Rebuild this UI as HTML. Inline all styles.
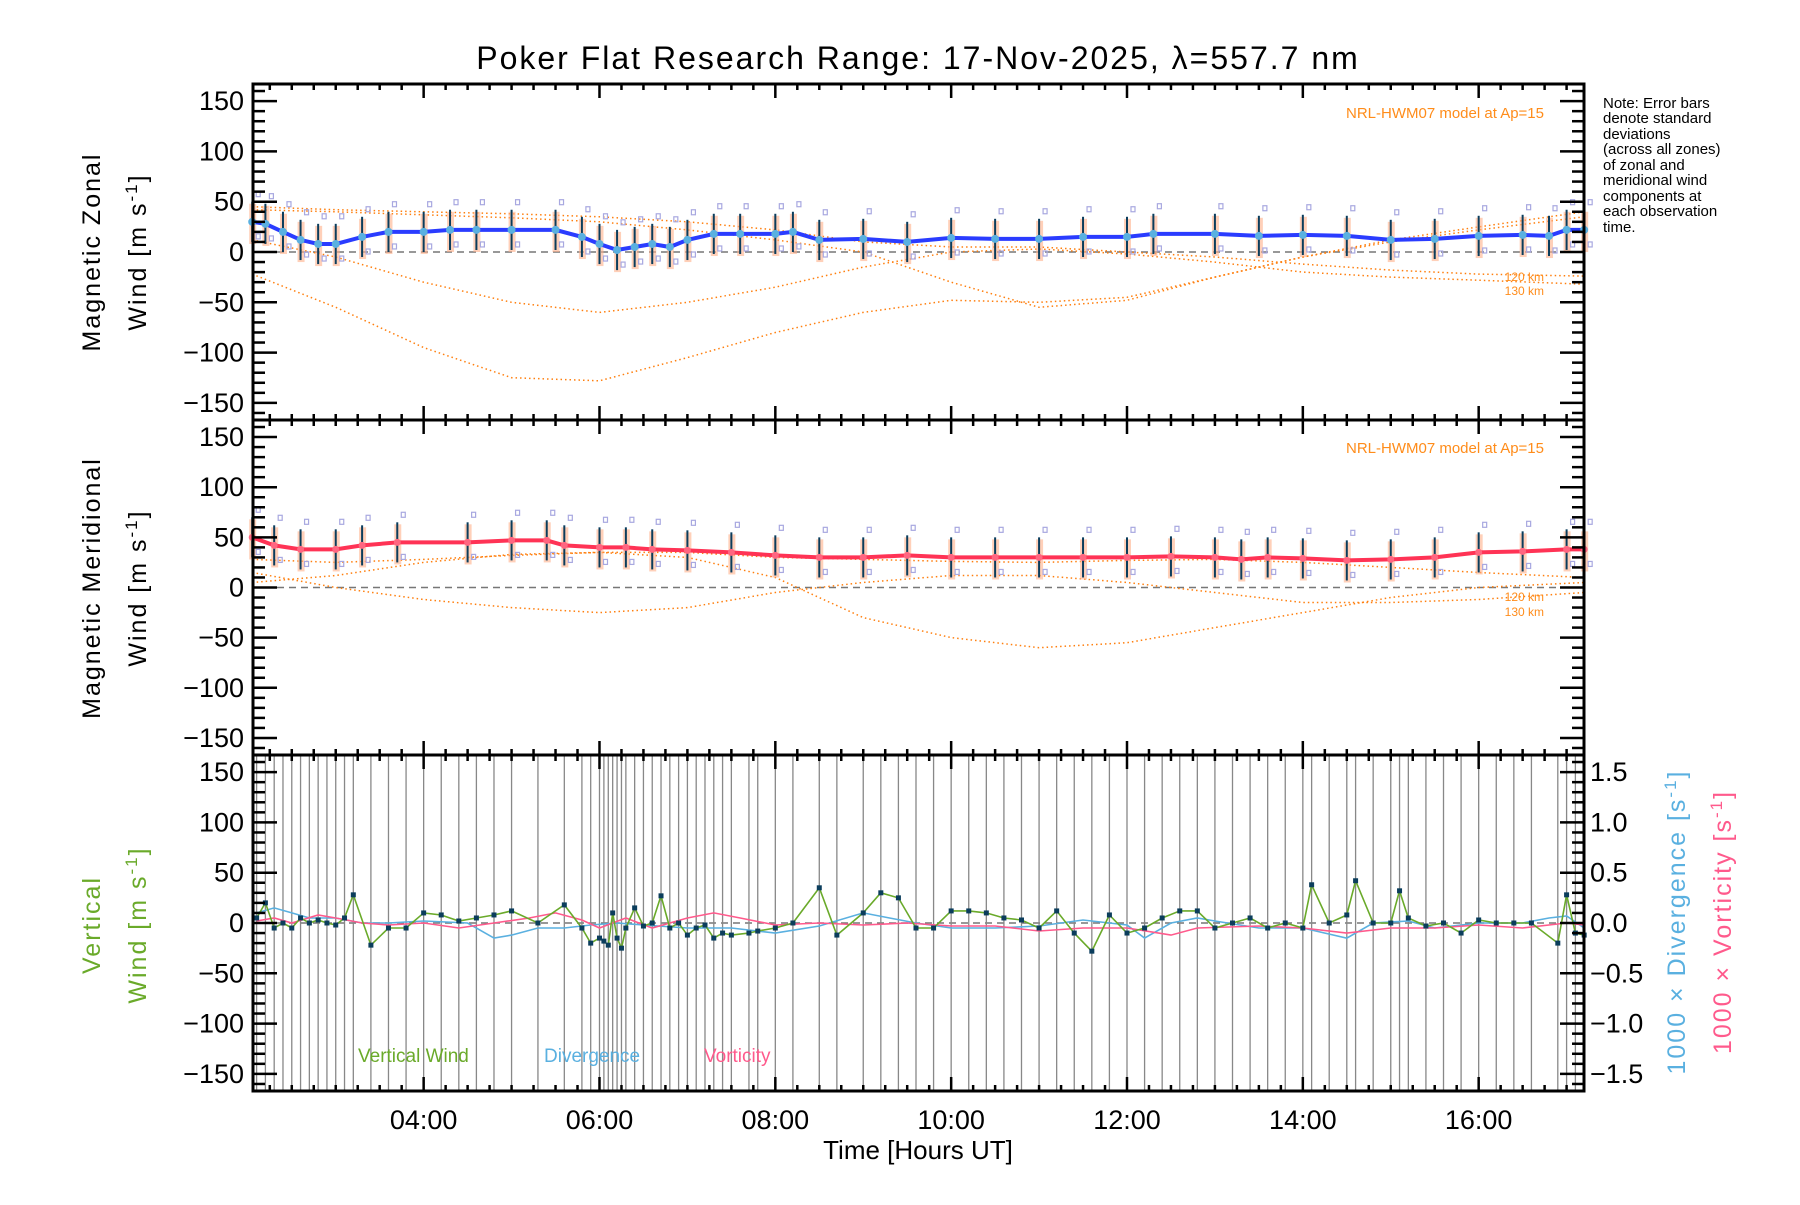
<!DOCTYPE html>
<html><head><meta charset="utf-8"><style>
body{margin:0;background:#fff}
svg text{font-family:"Liberation Sans",sans-serif}
</style></head><body>
<svg id="chart" width="1800" height="1200" xmlns="http://www.w3.org/2000/svg">
<rect width="1800" height="1200" fill="#fff"/>
<text x="918" y="69" font-size="32" letter-spacing="2" text-anchor="middle">Poker Flat Research Range: 17-Nov-2025, λ=557.7 nm</text>
<g id="marks"></g>
<g id="axes"></g>
<g font-size="15" fill="#000">
<text x="1603" y="108">Note: Error bars</text>
<text x="1603" y="123">denote standard</text>
<text x="1603" y="139">deviations</text>
<text x="1603" y="154">(across all zones)</text>
<text x="1603" y="170">of zonal and</text>
<text x="1603" y="185">meridional wind</text>
<text x="1603" y="201">components at</text>
<text x="1603" y="216">each observation</text>
<text x="1603" y="232">time.</text>
</g>
<text x="1544" y="118" font-size="15" fill="#ff8c1a" text-anchor="end">NRL-HWM07 model at Ap=15</text>
<text x="1544" y="453" font-size="15" fill="#ff8c1a" text-anchor="end">NRL-HWM07 model at Ap=15</text>
<text x="1544" y="281" font-size="12" fill="#ff8c1a" text-anchor="end">120 km</text>
<text x="1544" y="295" font-size="12" fill="#ff8c1a" text-anchor="end">130 km</text>
<text x="1544" y="601" font-size="12" fill="#ff8c1a" text-anchor="end">120 km</text>
<text x="1544" y="616" font-size="12" fill="#ff8c1a" text-anchor="end">130 km</text>
<text x="358" y="1062" font-size="19" fill="#6aaa2a">Vertical Wind</text>
<text x="544" y="1062" font-size="19" fill="#5ab0e0">Divergence</text>
<text x="704" y="1062" font-size="19" fill="#ff5a8c">Vorticity</text>
<text font-size="25" letter-spacing="2" text-anchor="middle" transform="translate(100,252) rotate(-90)">Magnetic Zonal</text>
<text font-size="25" letter-spacing="2" text-anchor="middle" transform="translate(146,252) rotate(-90)">Wind [m s<tspan dy="-9" font-size="17">-1</tspan><tspan dy="9">]</tspan></text>
<text font-size="25" letter-spacing="2" text-anchor="middle" transform="translate(100,588) rotate(-90)">Magnetic Meridional</text>
<text font-size="25" letter-spacing="2" text-anchor="middle" transform="translate(146,588) rotate(-90)">Wind [m s<tspan dy="-9" font-size="17">-1</tspan><tspan dy="9">]</tspan></text>
<text font-size="25" letter-spacing="2" fill="#6aaa2a" text-anchor="middle" transform="translate(100,925) rotate(-90)">Vertical</text>
<text font-size="25" letter-spacing="2" fill="#6aaa2a" text-anchor="middle" transform="translate(146,925) rotate(-90)">Wind [m s<tspan dy="-9" font-size="17">-1</tspan><tspan dy="9">]</tspan></text>
<text font-size="25" letter-spacing="2" fill="#5ab0e0" text-anchor="middle" transform="translate(1685,922) rotate(-90)">1000 × Divergence [s<tspan dy="-9" font-size="17">-1</tspan><tspan dy="9">]</tspan></text>
<text font-size="25" letter-spacing="2" fill="#ff5a8c" text-anchor="middle" transform="translate(1731,922) rotate(-90)">1000 × Vorticity [s<tspan dy="-9" font-size="17">-1</tspan><tspan dy="9">]</tspan></text>
<text x="918" y="1159" font-size="26" text-anchor="middle">Time [Hours UT]</text>
</svg>
<script>
const zonalTimes=[2.05,2.2,2.4,2.6,2.8,3.0,3.3,3.6,4.0,4.3,4.6,5.0,5.5,5.8,6.0,6.2,6.4,6.6,6.8,7.0,7.3,7.6,8.0,8.2,8.5,9.0,9.5,10.0,10.5,11.0,11.5,12.0,12.3,13.0,13.5,14.0,14.5,15.0,15.5,16.0,16.5,16.8,17.0,17.2];
const zonalWind=[30,28,20,12,8,8,15,20,20,22,22,22,22,15,8,2,5,8,5,12,18,18,18,20,12,13,10,14,13,13,15,15,18,18,16,17,16,12,13,16,17,16,22,22];
const merTimes=[2.05,2.3,2.6,3.0,3.3,3.7,4.5,5.0,5.4,5.6,6.0,6.3,6.6,7.0,7.5,8.0,8.5,9.0,9.5,10.0,10.5,11.0,11.5,12.0,12.5,13.0,13.3,13.6,14.0,14.5,15.0,15.5,16.0,16.5,17.0,17.2];
const merWind=[50,42,38,38,42,45,45,47,47,42,40,40,38,37,35,32,30,30,32,30,30,30,30,30,31,30,28,30,29,27,28,30,35,36,38,38];
const modelTimes=[2.05,3,4,5,6,7,8,9,10,11,12,13,14,15,16,17.2];
const zonalModelA=[42,40,37,34,30,22,12,0,-30,-55,-48,-25,-5,12,25,40];
const zonalModelB=[12,-5,-30,-50,-60,-50,-35,-15,0,3,-2,-10,-20,-25,-28,-32];
const zonalModelC=[-22,-55,-95,-125,-128,-105,-80,-60,-48,-50,-45,-25,-5,10,22,35];
const zonalModelD=[45,42,40,38,35,30,22,10,5,5,0,-5,-12,-18,-22,-24];
const merModelA=[15,0,-12,-20,-25,-20,-5,5,12,12,5,-5,-15,-15,-12,-5];
const merModelB=[5,12,25,33,35,30,10,-30,-50,-60,-55,-40,-25,-10,0,5];
const merModelC=[28,25,28,32,35,35,30,28,26,25,27,28,25,20,15,10];
const vertTimes=[2.1,2.2,2.3,2.4,2.5,2.6,2.7,2.8,2.9,3.0,3.1,3.2,3.4,3.6,3.8,4.0,4.2,4.4,4.6,4.8,5.0,5.3,5.6,5.8,5.9,6.0,6.05,6.1,6.15,6.2,6.25,6.3,6.4,6.5,6.6,6.7,6.8,6.9,7.0,7.1,7.2,7.3,7.4,7.5,7.7,7.8,8.0,8.2,8.5,8.7,9.0,9.2,9.4,9.6,9.8,10.0,10.2,10.4,10.6,10.8,11.0,11.2,11.4,11.6,11.8,12.0,12.2,12.4,12.6,12.8,13.0,13.2,13.4,13.6,13.8,14.0,14.1,14.3,14.5,14.6,14.8,15.0,15.1,15.2,15.4,15.6,15.8,16.0,16.2,16.4,16.6,16.9,17.0,17.1,17.2];
const vertWind=[5,20,-5,0,-5,5,0,3,0,-2,5,28,-22,-5,-5,10,8,2,5,8,12,0,18,-5,-20,-15,-18,-22,10,-15,-25,-5,15,-3,0,27,-5,0,-12,-5,-2,-15,-10,-12,-10,-8,-5,0,35,-12,10,30,25,-5,-5,12,12,10,5,3,-5,12,-10,-28,8,-10,-5,5,12,12,-5,0,5,-5,0,-5,38,0,8,42,0,0,32,5,-3,0,-10,3,0,0,0,-20,28,-10,-12];
const divTimes=[2.1,2.3,2.5,2.7,3.0,3.3,3.6,4.0,4.5,4.8,5.0,5.3,5.6,5.9,6.2,6.5,7.0,7.5,8.0,8.5,9.0,9.3,9.6,10.0,10.5,11.0,11.5,12.0,12.2,12.5,12.8,13.0,13.5,14.0,14.5,14.8,15.2,15.5,16.0,16.5,16.8,17.0,17.2];
const divergence=[0.1,0.15,0.1,0.05,0.05,0,0,0.02,0,-0.15,-0.12,-0.05,-0.05,-0.02,0,-0.02,-0.05,-0.05,-0.1,-0.03,0.1,0.05,0,-0.05,-0.05,-0.03,0.03,-0.02,-0.15,0,0.05,0.02,-0.05,-0.05,-0.15,0,0.02,-0.05,0,0,0.05,0.07,-0.05];
const vortTimes=[2.1,2.3,2.5,2.8,3.0,3.3,3.6,4.0,4.4,4.8,5.2,5.5,5.8,6.0,6.3,6.6,7.0,7.3,7.6,8.0,8.5,9.0,9.5,10.0,10.5,11.0,11.5,12.0,12.5,12.8,13.5,14.0,14.5,15.0,15.5,16.0,16.5,17.0,17.2];
const vorticity=[0.02,0.05,0,0.08,0.05,0,-0.02,0,-0.05,0,0.05,0.1,0.03,-0.05,0.05,-0.05,0.05,0.1,0.05,-0.02,0,-0.02,0,-0.03,-0.03,-0.08,-0.05,-0.05,-0.12,-0.05,-0.03,-0.05,-0.1,-0.05,-0.05,-0.02,-0.05,0,-0.02];
const yTicks=[150,100,50,0,-50,-100,-150];
const rTicks=[1.5,1.0,0.5,0.0,-0.5,-1.0,-1.5];
const xTickHours=[4,6,8,10,12,14,16];

const NS="http://www.w3.org/2000/svg";
const X0=253,X1=1584,T0=2.059,T1=17.198,YMAX=167;
const panels=[{top:84,bot:420},{top:420,bot:755},{top:755,bot:1091}];
function xs(t){return X0+(t-T0)*(X1-X0)/(T1-T0);}
function ysP(p){return v=>{const P=panels[p];const m=(P.top+P.bot)/2;return m-v*(P.bot-P.top)/2/YMAX;};}
const ys=[ysP(0),ysP(1),ysP(2)];
function ysR(v){return ys[2](v*100);}
const marks=document.getElementById('marks'),axes=document.getElementById('axes');
function el(tag,attrs,parent){const e=document.createElementNS(NS,tag);for(const k in attrs)e.setAttribute(k,attrs[k]);(parent||marks).appendChild(e);return e;}
function poly(ts,vs,y,attrs,name){
  const pts=ts.map((t,i)=>xs(t).toFixed(1)+','+y(vs[i]).toFixed(1)).join(' ');
  const e=el('polyline',Object.assign({points:pts,fill:'none'},attrs));
  
  
  return e;
}
for(let p=0;p<3;p++){
  const z=el('line',{x1:X0,x2:X1,y1:ys[p](0),y2:ys[p](0),stroke:'#777','stroke-width':1.5,'stroke-dasharray':'7,5'});
  
  
}
vertTimes.forEach(t=>{
  const l=el('line',{x1:xs(t),x2:xs(t),y1:panels[2].top,y2:panels[2].bot,stroke:'#888','stroke-width':1.3});
  
  
});
const dot={stroke:'#ff7f0e','stroke-width':1.5,'stroke-dasharray':'1.5,3'};
[zonalModelA,zonalModelB,zonalModelC,zonalModelD].forEach(m=>poly(modelTimes,m,ys[0],dot,'zonal-model-curve'));
[merModelA,merModelB,merModelC].forEach(m=>poly(modelTimes,m,ys[1],dot,'meridional-model-curve'));
function errs(ts,vs,y,name){
  ts.forEach((t,i)=>{
    const x=xs(t),v=vs[i];
    const r=el('rect',{x:x-3,y:y(v+18),width:7,height:y(v-22)-y(v+18),fill:'#ffb08a','fill-opacity':0.6});
    
    
    const l=el('line',{x1:x,x2:x,y1:y(v+20),y2:y(v-20),stroke:'#0b3d5c','stroke-width':2});
    
    
    [v+28,v-14].forEach(q=>{
      const s=el('rect',{x:x+4,y:y(q)-2,width:4,height:5,fill:'none',stroke:'#a8a8e0','stroke-width':1.2});
      
      
    });
  });
}
errs(zonalTimes,zonalWind,ys[0],'zonal');
errs(merTimes,merWind,ys[1],'meridional');
poly(zonalTimes,zonalWind,ys[0],{stroke:'#2a3cff','stroke-width':4},'zonal-wind-line');
poly(merTimes,merWind,ys[1],{stroke:'#ff3355','stroke-width':4},'meridional-wind-line');
zonalTimes.forEach((t,i)=>{const c=el('circle',{cx:xs(t),cy:ys[0](zonalWind[i]),r:4,fill:'#5ab0e0'});});
merTimes.forEach((t,i)=>{const c=el('circle',{cx:xs(t),cy:ys[1](merWind[i]),r:3.5,fill:'#ff6680'});});
poly(divTimes,divergence,ysR,{stroke:'#5ab0e0','stroke-width':1.6},'divergence-line');
poly(vortTimes,vorticity,ysR,{stroke:'#ff5a8c','stroke-width':1.6},'vorticity-line');
poly(vertTimes,vertWind,ys[2],{stroke:'#6aaa2a','stroke-width':1.6},'vertical-wind-line');
vertTimes.forEach((t,i)=>{const c=el('rect',{x:xs(t)-2.5,y:ys[2](vertWind[i])-2.5,width:5,height:5,fill:'#0b3d5c'});});
for(let p=0;p<3;p++){
  const P=panels[p];
  const b=el('rect',{x:X0,y:P.top,width:X1-X0,height:P.bot-P.top,fill:'none',stroke:'#000','stroke-width':3},axes);
  
  
  for(let v=-160;v<=160;v+=10){
    const y=ys[p](v),len=(v%50===0)?24:12;
    el('line',{x1:X0,x2:X0+len,y1:y,y2:y,stroke:'#000','stroke-width':2.5},axes);
    if(p<2) el('line',{x1:X1,x2:X1-len,y1:y,y2:y,stroke:'#000','stroke-width':2.5},axes);
  }
  yTicks.forEach(v=>{
    const t=el('text',{x:244,y:ys[p](v)+9,'font-size':27,'text-anchor':'end'},axes);
    t.textContent=(v<0?'−':'')+Math.abs(v);
    
    
  });
  for(let h=2.25;h<=T1;h+=0.25){
    const x=xs(h),maj=(Math.abs(h-Math.round(h))<1e-6&&Math.round(h)%2===0),len=maj?14:6;
    el('line',{x1:x,x2:x,y1:P.bot,y2:P.bot-len,stroke:'#000','stroke-width':2.5},axes);
    el('line',{x1:x,x2:x,y1:P.top,y2:P.top+len,stroke:'#000','stroke-width':2.5},axes);
  }
}
for(let v=-1.6;v<=1.61;v+=0.1){
  const y=ysR(v),len=(Math.round(v*10)%5===0)?24:12;
  el('line',{x1:X1,x2:X1-len,y1:y,y2:y,stroke:'#000','stroke-width':2.5},axes);
}
rTicks.forEach(v=>{
  const t=el('text',{x:1590,y:ysR(v)+9,'font-size':27},axes);
  t.textContent=(v<0?'−':'')+Math.abs(v).toFixed(1);
  
  
});
xTickHours.forEach(h=>{
  const t=el('text',{x:xs(h),y:1129,'font-size':27,'text-anchor':'middle'},axes);
  t.textContent=(h<10?'0':'')+h+':00';
  
  
});
</script>
</body></html>
